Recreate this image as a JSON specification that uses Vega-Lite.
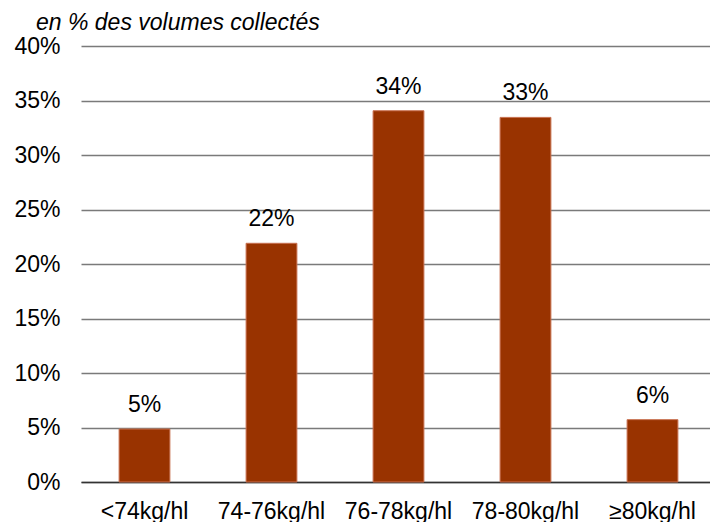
{
  "$schema": "https://vega.github.io/schema/vega-lite/v6.json",
  "width": 635,
  "height": 436,
  "autosize": {"type": "none"},
  "padding": {"left": 81, "top": 46, "right": 0, "bottom": 40},
  "background": "white",
  "title": {
    "text": "en % des volumes collectés",
    "anchor": "start",
    "frame": "group",
    "dx": -45,
    "dy": 22,
    "offset": 4,
    "baseline": "alphabetic",
    "font": "Liberation Sans",
    "fontSize": 23,
    "fontStyle": "italic",
    "fontWeight": "normal",
    "color": "#000000"
  },
  "data": {
    "values": [
      {"classe": "<74kg/hl", "part": 0.0486},
      {"classe": "74-76kg/hl", "part": 0.219},
      {"classe": "76-78kg/hl", "part": 0.3406},
      {"classe": "78-80kg/hl", "part": 0.3345},
      {"classe": "≥80kg/hl", "part": 0.0572}
    ]
  },
  "encoding": {
    "x": {
      "field": "classe",
      "type": "nominal",
      "sort": null,
      "scale": {"paddingInner": 0.6, "paddingOuter": 0.3},
      "axis": {
        "title": null,
        "labelAngle": 0,
        "labelFont": "Liberation Sans",
        "labelFontSize": 23,
        "labelColor": "#000000",
        "labelBaseline": "alphabetic",
        "labelPadding": 36,
        "ticks": false,
        "tickSize": 0,
        "domainColor": "#333333",
        "domainWidth": 1.5,
        "grid": false
      }
    },
    "y": {
      "field": "part",
      "type": "quantitative",
      "scale": {"domain": [0, 0.4], "nice": false},
      "axis": {
        "title": null,
        "format": ".0%",
        "values": [0, 0.05, 0.1, 0.15, 0.2, 0.25, 0.3, 0.35, 0.4],
        "labelFont": "Liberation Sans",
        "labelFontSize": 23,
        "labelColor": "#000000",
        "labelPadding": 21,
        "ticks": false,
        "tickSize": 0,
        "domain": false,
        "grid": true,
        "gridColor": "#7a7a7a",
        "gridWidth": 1.5
      }
    }
  },
  "layer": [
    {
      "mark": {"type": "bar", "color": "#993300", "stroke": "#c87050", "strokeWidth": 1}
    },
    {
      "mark": {
        "type": "text",
        "baseline": "alphabetic",
        "dy": -17,
        "font": "Liberation Sans",
        "fontSize": 23,
        "color": "#000000"
      },
      "encoding": {
        "text": {"field": "part", "type": "quantitative", "format": ".0%"}
      }
    }
  ],
  "config": {"view": {"stroke": null}}
}
